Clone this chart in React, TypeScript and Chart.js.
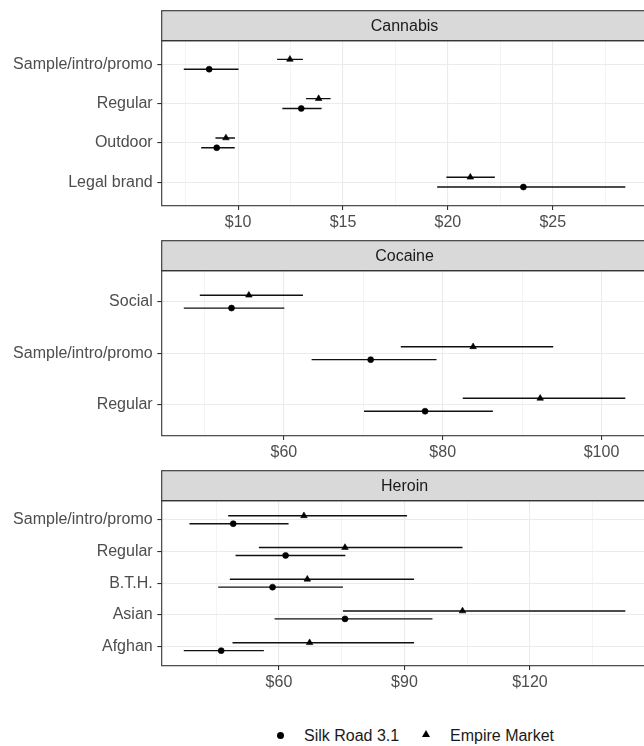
import React, { useEffect, useRef } from 'react';
import { Chart, registerables } from 'chart.js';

Chart.register(...registerables);

const FONT = '"Liberation Sans", Arial, Helvetica, sans-serif';

// ---------- Cannabis ----------
const CANNABIS_CATS = ['Sample/intro/promo', 'Regular', 'Outdoor', 'Legal brand'];
const CANNABIS_SR_MEAN = [8.62, 13.01, 8.98, 23.6];
const CANNABIS_SR_LO = [7.41, 12.11, 8.24, 19.49];
const CANNABIS_SR_HI = [10.02, 13.98, 9.84, 28.46];
const CANNABIS_EM_MEAN = [12.47, 13.84, 9.42, 21.07];
const CANNABIS_EM_LO = [11.86, 13.24, 8.92, 19.93];
const CANNABIS_EM_HI = [13.09, 14.41, 9.85, 22.24];
const CANNABIS_TICKS = [10, 15, 20, 25];
const CANNABIS_MINOR = [7.5, 12.5, 17.5, 22.5, 27.5];

// ---------- Cocaine ----------
const COCAINE_CATS = ['Social', 'Sample/intro/promo', 'Regular'];
const COCAINE_SR_MEAN = [53.4, 70.93, 77.78];
const COCAINE_SR_LO = [47.39, 63.49, 70.09];
const COCAINE_SR_HI = [60.05, 79.22, 86.32];
const COCAINE_EM_MEAN = [55.59, 83.83, 92.28];
const COCAINE_EM_LO = [49.41, 74.72, 82.53];
const COCAINE_EM_HI = [62.4, 93.92, 103.0];
const COCAINE_TICKS = [60, 80, 100];
const COCAINE_MINOR = [50, 70, 90];

// ---------- Heroin ----------
const HEROIN_CATS = ['Sample/intro/promo', 'Regular', 'B.T.H.', 'Asian', 'Afghan'];
const HEROIN_SR_MEAN = [49.07, 61.59, 58.48, 75.79, 46.2];
const HEROIN_SR_LO = [38.61, 49.62, 45.48, 58.95, 37.25];
const HEROIN_SR_HI = [62.3, 75.88, 75.3, 96.7, 56.4];
const HEROIN_EM_MEAN = [65.97, 75.79, 66.78, 103.88, 67.33];
const HEROIN_EM_LO = [47.87, 55.2, 48.26, 75.3, 48.9];
const HEROIN_EM_HI = [90.62, 103.88, 92.3, 142.8, 92.3];
const HEROIN_TICKS = [60, 90, 120];
const HEROIN_MINOR = [45, 75, 105, 135];

const SERIES_NAMES = ['Silk Road 3.1', 'Empire Market'];

type Panel = {
  title: string;
  cats: string[];
  srMean: number[]; srLo: number[]; srHi: number[];
  emMean: number[]; emLo: number[]; emHi: number[];
  major: number[]; minor: number[];
};

const PANELS: Panel[] = [
  { title: 'Cannabis', cats: CANNABIS_CATS, srMean: CANNABIS_SR_MEAN, srLo: CANNABIS_SR_LO, srHi: CANNABIS_SR_HI,
    emMean: CANNABIS_EM_MEAN, emLo: CANNABIS_EM_LO, emHi: CANNABIS_EM_HI, major: CANNABIS_TICKS, minor: CANNABIS_MINOR },
  { title: 'Cocaine', cats: COCAINE_CATS, srMean: COCAINE_SR_MEAN, srLo: COCAINE_SR_LO, srHi: COCAINE_SR_HI,
    emMean: COCAINE_EM_MEAN, emLo: COCAINE_EM_LO, emHi: COCAINE_EM_HI, major: COCAINE_TICKS, minor: COCAINE_MINOR },
  { title: 'Heroin', cats: HEROIN_CATS, srMean: HEROIN_SR_MEAN, srLo: HEROIN_SR_LO, srHi: HEROIN_SR_HI,
    emMean: HEROIN_EM_MEAN, emLo: HEROIN_EM_LO, emHi: HEROIN_EM_HI, major: HEROIN_TICKS, minor: HEROIN_MINOR },
];

const CANVAS_W = 652;
const CANVAS_H = 230;
const STRIP_H = 30;
const PAD_TOP = 30.7;
const Y_AXIS_W = 161.7;
const X_AXIS_H = 34.3;
const DODGE = 0.125;

const stripPlugin = {
  id: 'strip',
  afterDraw(chart: any, _args: any, opts: any) {
    const { ctx, chartArea } = chart;
    const { left, right, top, bottom } = chartArea;
    ctx.save();
    ctx.fillStyle = '#D9D9D9';
    ctx.fillRect(left, top - STRIP_H, right - left, STRIP_H);
    ctx.strokeStyle = '#333333';
    ctx.lineWidth = 1.1;
    ctx.strokeRect(left, top - STRIP_H, right - left, STRIP_H);
    ctx.strokeRect(left, top, right - left, bottom - top);
    ctx.fillStyle = '#1A1A1A';
    ctx.font = `16px ${FONT}`;
    ctx.textAlign = 'center';
    ctx.textBaseline = 'middle';
    ctx.fillText(opts.text, (left + right) / 2, top - STRIP_H / 2 + 1);
    ctx.restore();
  },
};

function buildConfig(p: Panel): any {
  const lo = Math.min(...p.srLo, ...p.emLo);
  const hi = Math.max(...p.srHi, ...p.emHi);
  const ext = (hi - lo) * 0.05;
  const datasets: any[] = [];
  datasets.push({
    label: SERIES_NAMES[0],
    data: p.srMean.map((v, i) => ({ x: v, y: i + DODGE })),
    pointStyle: 'circle', pointRadius: 3, pointBorderWidth: 0.6,
    backgroundColor: '#000', borderColor: '#000', showLine: false, order: 0,
  });
  datasets.push({
    label: SERIES_NAMES[1],
    data: p.emMean.map((v, i) => ({ x: v, y: i - DODGE })),
    pointStyle: 'triangle', pointRadius: 3.8, pointBorderWidth: 0.6,
    backgroundColor: '#000', borderColor: '#000', showLine: false, order: 0,
  });
  p.srLo.forEach((l, i) => {
    datasets.push({
      label: SERIES_NAMES[0] + ' range',
      data: [{ x: l, y: i + DODGE }, { x: p.srHi[i], y: i + DODGE }],
      showLine: true, pointRadius: 0, borderColor: '#111', borderWidth: 1.4, order: 1,
    });
  });
  p.emLo.forEach((l, i) => {
    datasets.push({
      label: SERIES_NAMES[1] + ' range',
      data: [{ x: l, y: i - DODGE }, { x: p.emHi[i], y: i - DODGE }],
      showLine: true, pointRadius: 0, borderColor: '#111', borderWidth: 1.4, order: 1,
    });
  });
  const allX = [...p.major, ...p.minor].sort((a, b) => a - b);
  const isMinor = (v: number) => p.minor.includes(v);
  return {
    type: 'scatter',
    data: { datasets },
    plugins: [stripPlugin],
    options: {
      responsive: false,
      animation: false,
      events: [],
      layout: { padding: { top: PAD_TOP, left: 0, right: 0, bottom: 0 } },
      plugins: {
        legend: { display: false },
        tooltip: { enabled: false },
        strip: { text: p.title },
      },
      scales: {
        x: {
          type: 'linear',
          min: lo - ext,
          max: hi + ext,
          afterBuildTicks: (s: any) => { s.ticks = allX.map((v) => ({ value: v })); },
          afterFit: (s: any) => { s.height = X_AXIS_H; },
          border: { display: false },
          grid: {
            color: '#EBEBEB',
            lineWidth: (c: any) => (c.tick && isMinor(c.tick.value) ? 0.55 : 1.1),
            tickColor: (c: any) => (c.tick && isMinor(c.tick.value) ? 'rgba(0,0,0,0)' : '#333333'),
            tickLength: 4.4,
            tickWidth: 1.1,
          },
          ticks: {
            autoSkip: false,
            maxRotation: 0,
            padding: 3,
            color: '#4D4D4D',
            font: { family: FONT, size: 16 },
            callback: (v: number) => (isMinor(v) ? '' : '$' + v),
          },
        },
        y: {
          type: 'linear',
          reverse: true,
          min: -0.6,
          max: p.cats.length - 0.4,
          afterBuildTicks: (s: any) => { s.ticks = p.cats.map((_, i) => ({ value: i })); },
          afterFit: (s: any) => { s.width = Y_AXIS_W; },
          border: { display: false },
          grid: {
            color: '#EBEBEB',
            lineWidth: 1.1,
            tickColor: '#333333',
            tickLength: 4.4,
            tickWidth: 1.1,
          },
          ticks: {
            autoSkip: false,
            padding: 4.6,
            color: '#4D4D4D',
            font: { family: FONT, size: 16 },
            callback: (v: number) => p.cats[v] ?? '',
          },
        },
      },
    },
  };
}

function PanelChart({ panel, top }: { panel: Panel; top: number }) {
  const ref = useRef<HTMLCanvasElement | null>(null);
  useEffect(() => {
    if (!ref.current) return;
    const chart = new Chart(ref.current, buildConfig(panel));
    return () => chart.destroy();
  }, [panel]);
  return (
    <canvas
      ref={ref}
      width={CANVAS_W}
      height={CANVAS_H}
      style={{ position: 'absolute', left: 0, top, width: CANVAS_W, height: CANVAS_H }}
    />
  );
}

export default function App() {
  const textStyle: React.CSSProperties = {
    position: 'absolute', fontFamily: FONT, fontSize: 16, color: '#1A1A1A', lineHeight: '18px', whiteSpace: 'nowrap',
  };
  return (
    <div style={{ position: 'absolute', left: 0, top: 0, width: 644, height: 746, overflow: 'hidden', background: '#fff' }}>
      {PANELS.map((p, i) => (
        <PanelChart key={p.title} panel={p} top={10 + i * 230} />
      ))}
      <span style={{ position: 'absolute', left: 276.5, top: 731.5, width: 7, height: 7, borderRadius: '50%', background: '#000' }} />
      <span style={{ ...textStyle, left: 304, top: 727 }}>{SERIES_NAMES[0]}</span>
      <span style={{ position: 'absolute', left: 422, top: 730, width: 0, height: 0, borderLeft: '4px solid transparent', borderRight: '4px solid transparent', borderBottom: '7px solid #000' }} />
      <span style={{ ...textStyle, left: 450, top: 727 }}>{SERIES_NAMES[1]}</span>
    </div>
  );
}
